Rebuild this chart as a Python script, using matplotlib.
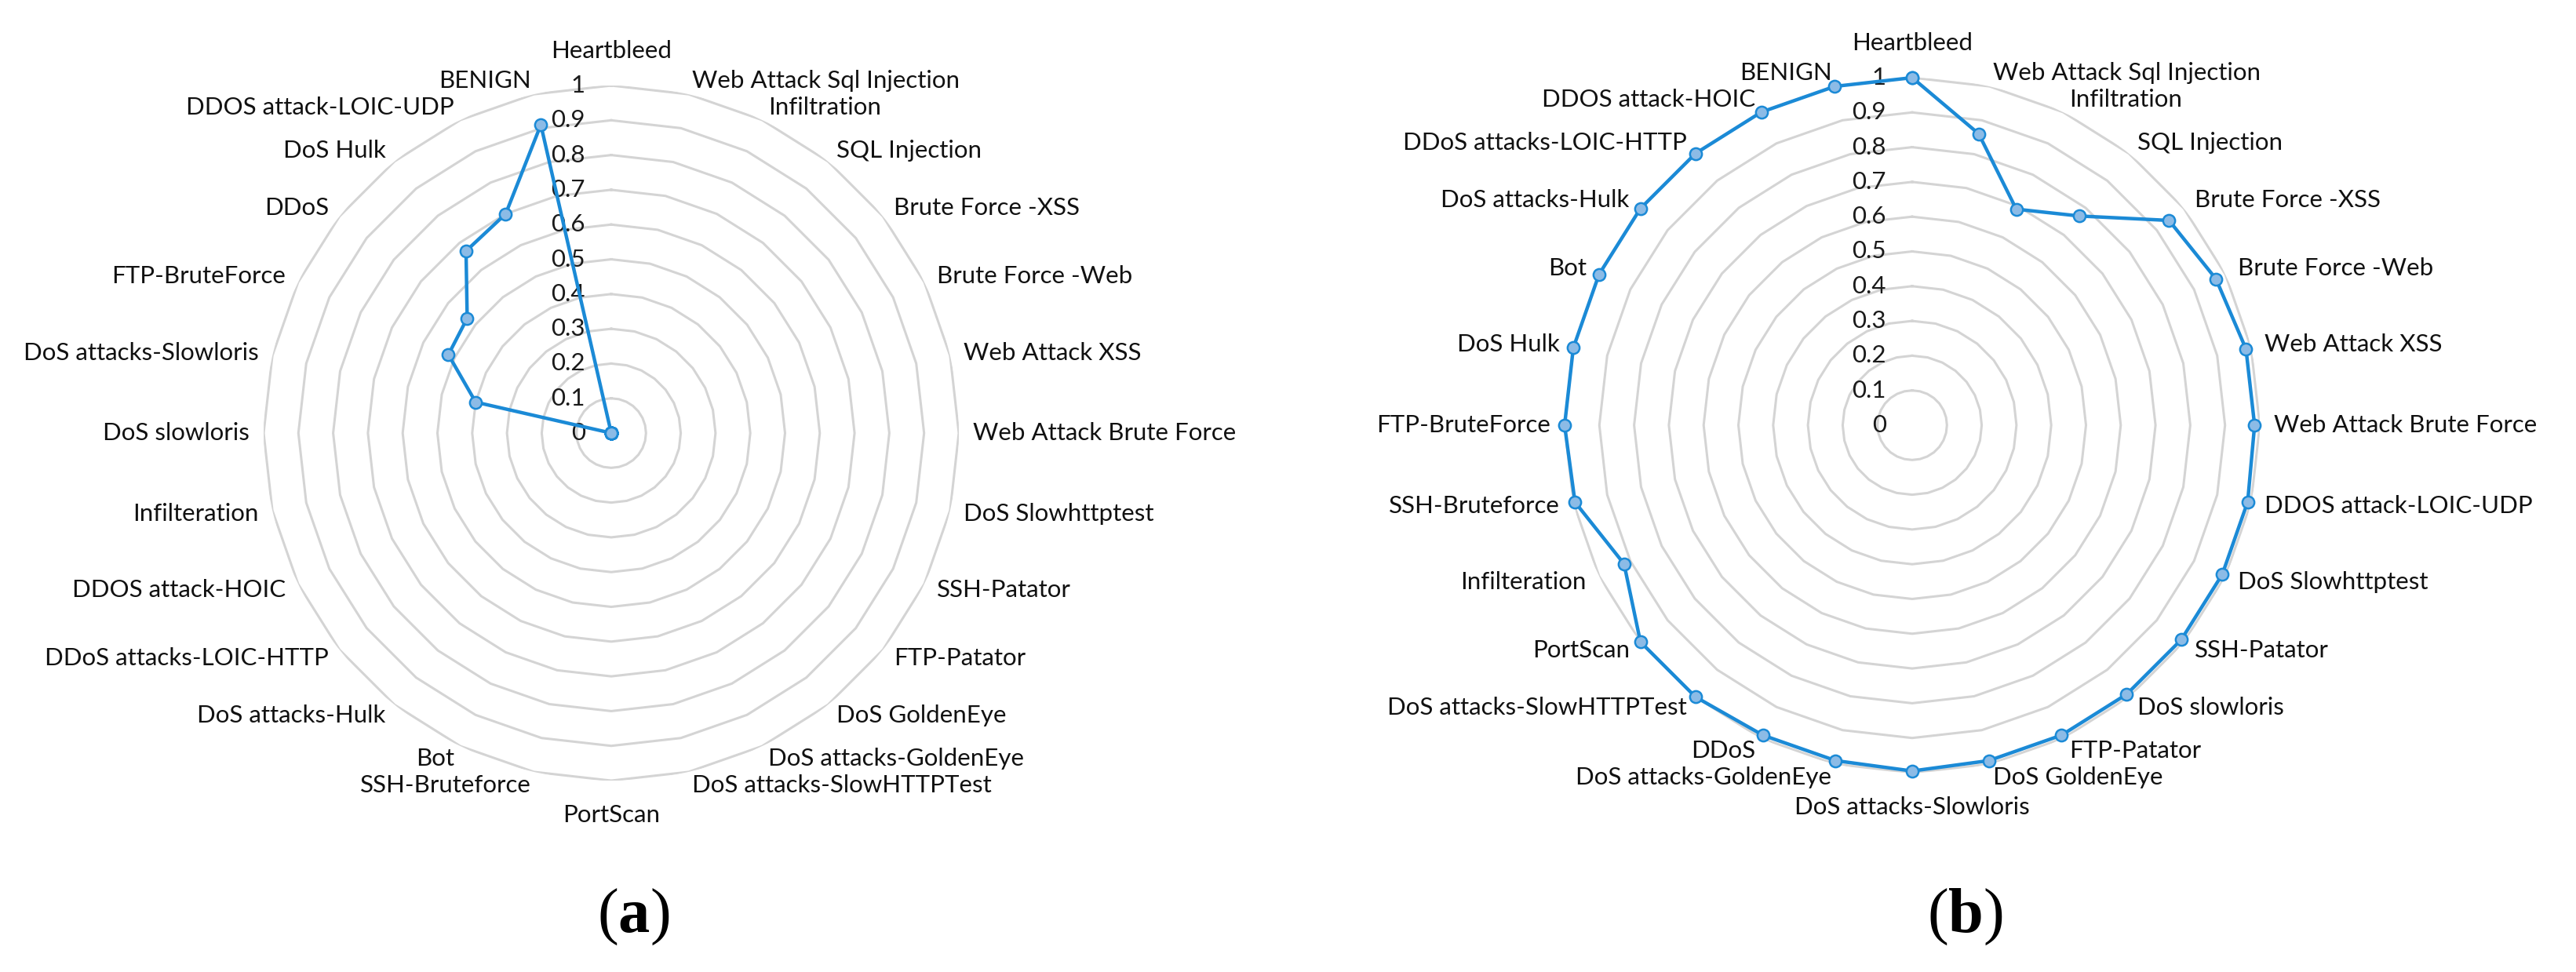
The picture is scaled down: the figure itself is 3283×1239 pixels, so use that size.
import matplotlib
matplotlib.use("Agg")
import matplotlib.pyplot as plt
import numpy as np

# categories, clockwise from the top, for each chart
labels_a = ["Heartbleed", "Web Attack Sql Injection", "Infiltration", "SQL Injection",
            "Brute Force -XSS", "Brute Force -Web", "Web Attack XSS", "Web Attack Brute Force",
            "DoS Slowhttptest", "SSH-Patator", "FTP-Patator", "DoS GoldenEye",
            "DoS attacks-GoldenEye", "DoS attacks-SlowHTTPTest", "PortScan", "SSH-Bruteforce",
            "Bot", "DoS attacks-Hulk", "DDoS attacks-LOIC-HTTP", "DDOS attack-HOIC",
            "Infilteration", "DoS slowloris", "DoS attacks-Slowloris", "FTP-BruteForce",
            "DDoS", "DoS Hulk", "DDOS attack-LOIC-UDP", "BENIGN"]
values_a = [0, 0, 0, 0, 0, 0, 0, 0, 0, 0, 0, 0, 0, 0, 0, 0, 0, 0, 0, 0,
            0, 0, 0.40, 0.52, 0.53, 0.67, 0.70, 0.91]

labels_b = ["Heartbleed", "Web Attack Sql Injection", "Infiltration", "SQL Injection",
            "Brute Force -XSS", "Brute Force -Web", "Web Attack XSS", "Web Attack Brute Force",
            "DDOS attack-LOIC-UDP", "DoS Slowhttptest", "SSH-Patator", "DoS slowloris",
            "FTP-Patator", "DoS GoldenEye", "DoS attacks-Slowloris", "DoS attacks-GoldenEye",
            "DDoS", "DoS attacks-SlowHTTPTest", "PortScan", "Infilteration",
            "SSH-Bruteforce", "FTP-BruteForce", "DoS Hulk", "Bot",
            "DoS attacks-Hulk", "DDoS attacks-LOIC-HTTP", "DDOS attack-HOIC", "BENIGN"]
values_b = [1.0, 0.86, 0.69, 0.77, 0.945, 0.97, 0.985, 0.985,
            0.99, 0.99, 0.99, 0.99, 0.99, 0.99, 0.995, 0.99,
            0.99, 1.0, 1.0, 0.92, 0.995, 1.0, 1.0, 1.0,
            1.0, 1.0, 1.0, 1.0]

rings = [0.1, 0.2, 0.3, 0.4, 0.5, 0.6, 0.7, 0.8, 0.9, 1.0]
ring_labels = ["0", "0.1", "0.2", "0.3", "0.4", "0.5", "0.6", "0.7", "0.8", "0.9", "1"]

plt.rcParams["mathtext.fontset"] = "custom"
plt.rcParams["mathtext.rm"] = "Liberation Serif"
plt.rcParams["mathtext.bf"] = "Liberation Serif:bold"

LINE = "#1b8ad6"
FACE = "#8cbbe6"
GRID = "#d4d4d4"
FONT = "Lato"


def radar(ax, labels, values):
    n = len(labels)
    theta = np.arange(n) * 2 * np.pi / n
    closed = np.append(theta, theta[0])
    ax.set_theta_zero_location("N")
    ax.set_theta_direction(-1)
    ax.set_ylim(0, 1)
    ax.set_xticks([])
    ax.set_yticks([])
    ax.grid(False)
    ax.spines["polar"].set_visible(False)
    ax.patch.set_visible(False)

    for r in rings:
        ax.plot(closed, [r] * (n + 1), color=GRID, lw=2.2, zorder=1)

    for r, t in zip([0] + rings, ring_labels):
        ax.annotate(t, xy=(0, r), xytext=(-33, 0), textcoords="offset pixels",
                    ha="right", va="center", fontsize=22.5, family=FONT,
                    color="#1a1a1a", zorder=2)

    v = np.append(values, values[0])
    ax.plot(closed, v, color=LINE, lw=3.2, marker="o", markersize=11,
            markerfacecolor=FACE, markeredgecolor=LINE, markeredgewidth=1.8,
            clip_on=False, zorder=3)

    for th, lab in zip(theta, labels):
        s = np.sin(th)
        if abs(s) < 0.05:
            ha = "center"
            rr = 1.1
        else:
            ha = "left" if s > 0 else "right"
            rr = 1.04
        ax.text(th, rr, lab, ha=ha, va="center", fontsize=22.5, family=FONT,
                color="#111111")


fig = plt.figure(figsize=(32.83, 12.39), dpi=100)
ax1 = fig.add_axes([0.10234, 0.1969, 0.26988, 0.7151], projection="polar")
ax2 = fig.add_axes([0.60737, 0.2050, 0.26988, 0.7151], projection="polar")
radar(ax1, labels_a, values_a)
radar(ax2, labels_b, values_b)

fig.text(807 / 3283, 1 - 1168 / 1239, r"$(\mathbf{a})$", ha="center", va="center", fontsize=58)
fig.text(2504 / 3283, 1 - 1168 / 1239, r"$(\mathbf{b})$", ha="center", va="center", fontsize=58)

fig.savefig("out.png", dpi=100, facecolor="white")
